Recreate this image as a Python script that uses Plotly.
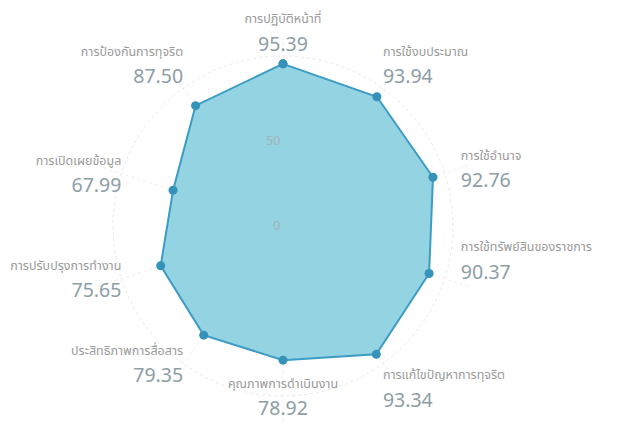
import plotly.graph_objects as go

categories = [
    "การปฏิบัติหน้าที่",
    "การใช้งบประมาณ",
    "การใช้อำนาจ",
    "การใช้ทรัพย์สินของราชการ",
    "การแก้ไขปัญหาการทุจริต",
    "คุณภาพการดำเนินงาน",
    "ประสิทธิภาพการสื่อสาร",
    "การปรับปรุงการทำงาน",
    "การเปิดเผยข้อมูล",
    "การป้องกันการทุจริต",
]
scores = [95.39, 93.94, 92.76, 90.37, 93.34, 78.92, 79.35, 75.65, 67.99, 87.50]
radial_ticks = [0, 50, 100]
radial_tick_text = ["0", "50", ""]
axis_max = 100

# label placement (style): anchor radius on the axis scale and text side
label_anchor_r = [100, 100, 110, 110, 100, 86, 100, 100, 100, 100]
label_positions = [
    "top center", "top right", "middle right", "top right", "bottom right",
    "bottom center", "middle left", "middle left", "middle left", "top left",
]

FONT = "Tahoma, Noto Sans Thai, Noto Sans, DejaVu Sans, sans-serif"

label_text = [
    f"<span style='font-size:12.5px;color:#9a9a9a'>{c}</span><br>"
    f"<span style='font-size:19.5px;color:#8d9ea6'>{v:.2f}</span>"
    for c, v in zip(categories, scores)
]

fig = go.Figure()

fig.add_trace(go.Scatterpolar(
    r=scores + scores[:1],
    theta=categories + categories[:1],
    mode="lines+markers",
    fill="toself",
    fillcolor="#93d3e2",
    line=dict(color="#3d9cc3", width=2),
    marker=dict(color="#3592b8", size=9),
    hoverinfo="skip",
    showlegend=False,
))

fig.add_trace(go.Scatterpolar(
    r=label_anchor_r,
    theta=categories,
    mode="text",
    text=label_text,
    textposition=label_positions,
    textfont=dict(family=FONT, size=21, color="#9a9a9a"),
    cliponaxis=False,
    hoverinfo="skip",
    showlegend=False,
))

# radial extent leaves room for outer labels; 100 on the axis = 170 px
range_max = 115
cx, cy = 283 - 8, 226 - 8   # page body adds an 8px offset
R = 170 * range_max / axis_max
W, H = 634, 446

fig.update_layout(
    width=W,
    height=H,
    margin=dict(l=0, r=0, t=0, b=0),
    paper_bgcolor="white",
    plot_bgcolor="white",
    font=dict(family=FONT, color="#9a9a9a"),
    polar=dict(
        domain=dict(x=[(cx - R) / W, (cx + R) / W], y=[(H - cy - R) / H, (H - cy + R) / H]),
        bgcolor="rgba(0,0,0,0)",
        gridshape="circular",
        radialaxis=dict(
            range=[0, range_max],
            tickvals=radial_ticks,
            ticktext=radial_tick_text,
            angle=90,
            tickangle=90,
            side="counterclockwise",
            showline=False,
            ticks="",
            gridcolor="#e8e8e8",
            griddash="dot",
            tickfont=dict(family=FONT, size=13, color="#a3b3b8"),
            layer="above traces",
        ),
        angularaxis=dict(
            rotation=90,
            direction="clockwise",
            showticklabels=False,
            ticks="",
            showline=False,
            gridcolor="#eeeeee",
            griddash="dot",
        ),
    ),
)

fig.write_html("out.html")
